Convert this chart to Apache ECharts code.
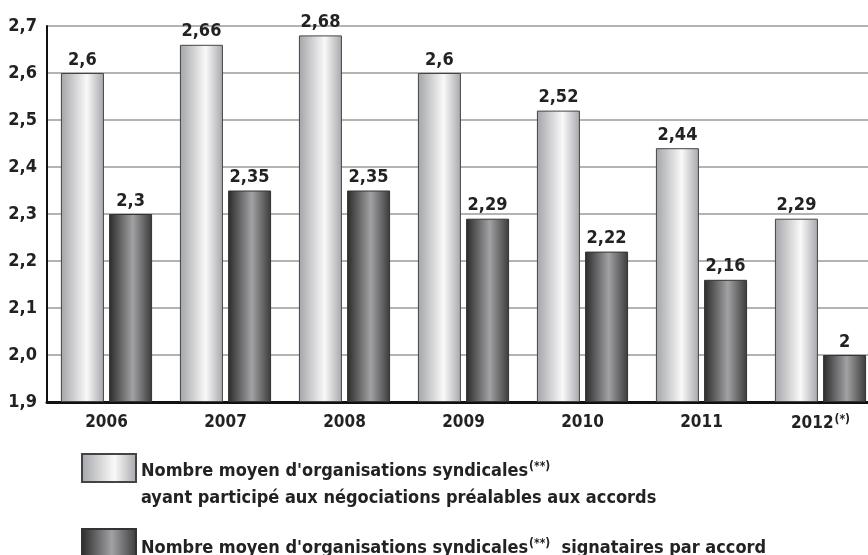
<!DOCTYPE html>
<html>
<head>
<meta charset="utf-8">
<script src="https://cdn.jsdelivr.net/npm/echarts@6/dist/echarts.min.js"></script>
<style>
html, body { margin: 0; padding: 0; background: #fff; }
#main { width: 868px; height: 555px; }
</style>
</head>
<body>
<div id="main"></div>
<script>
// annees et valeurs
let years = ['2006', '2007', '2008', '2009', '2010', '2011', '2012'];
let participants = [2.6, 2.66, 2.68, 2.6, 2.52, 2.44, 2.29];
let signataires = [2.3, 2.35, 2.35, 2.29, 2.22, 2.16, 2.0];
let seriesNames = [
    "Nombre moyen d'organisations syndicales",
    "Nombre moyen d'organisations syndicales signataires"
];

let font = "'Liberation Sans Narrow', 'DejaVu Sans Condensed', sans-serif";

let lightBar = new echarts.graphic.LinearGradient(0, 0, 1, 0, [
    { offset: 0, color: '#a4a5a9' },
    { offset: 0.6, color: '#f9f9f9' },
    { offset: 1, color: '#a6a7ab' }
]);
let darkBar = new echarts.graphic.LinearGradient(0, 0, 1, 0, [
    { offset: 0, color: '#2a2a2a' },
    { offset: 0.55, color: '#a2a2a5' },
    { offset: 1, color: '#3a3a3a' }
]);

let chart = echarts.init(document.getElementById('main'));
let fmt = function (p) { return String(p.value).replace('.', ','); };

let legendRich = {
    t: { fontFamily: font, fontSize: 18, fontWeight: 'bold', color: '#222', lineHeight: 27 },
    s: { fontFamily: font, fontSize: 12, fontWeight: 'bold', color: '#222', lineHeight: 27, padding: [0, 0, 8, 1] }
};

option = {
    animation: false,
    textStyle: { fontFamily: font },
    grid: {
        left: 47,
        top: 26,
        width: 833,
        bottom: 153,
        outerBoundsMode: 'none'
    },
    legend: [
        {
            data: [seriesNames[0]],
            left: 81,
            top: 453,
            padding: 0,
            icon: 'rect',
            itemWidth: 54,
            itemHeight: 28,
            itemGap: 8,
            formatter: function () {
                return "{t|Nombre moyen d'organisations syndicales}{s|(**)}\n{t|ayant participé aux négociations préalables aux accords}";
            },
            textStyle: {
                padding: [33, 0, 0, 0],
                rich: legendRich
            }
        },
        {
            data: [seriesNames[1]],
            left: 81,
            top: 528,
            padding: 0,
            icon: 'rect',
            itemWidth: 54,
            itemHeight: 28,
            formatter: function () {
                return "{t|Nombre moyen d'organisations syndicales}{s|(**)}{t|  signataires par accord}";
            },
            textStyle: {
                padding: [10, 0, 0, 0],
                rich: legendRich
            }
        }
    ],
    xAxis: {
        type: 'category',
        data: years,
        axisLine: { lineStyle: { color: '#111', width: 3 } },
        axisTick: { show: false },
        axisLabel: {
            margin: 12,
            formatter: function (v) {
                return v === '2012' ? '{y|' + v + '}{s|(*)}' : '{y|' + v + '}';
            },
            rich: {
                y: { fontFamily: font, fontSize: 17, fontWeight: 'bold', color: '#222' },
                s: { fontFamily: font, fontSize: 12, fontWeight: 'bold', color: '#222', padding: [0, 0, 7, 1] }
            }
        }
    },
    yAxis: {
        type: 'value',
        min: 1.9,
        max: 2.7,
        interval: 0.1,
        startValue: 1.9,
        axisLine: { show: true, lineStyle: { color: '#111', width: 2 } },
        axisTick: { show: false },
        splitLine: { lineStyle: { color: '#9a9a9a', width: 1.5 } },
        axisLabel: {
            margin: 10,
            fontFamily: font,
            fontSize: 18,
            fontWeight: 'bold',
            color: '#222',
            formatter: function (v) { return v.toFixed(1).replace('.', ','); }
        }
    },
    series: [
        {
            name: seriesNames[0],
            type: 'bar',
            data: participants,
            barWidth: 43,
            barGap: '12%',
            itemStyle: { color: lightBar, borderColor: '#444', borderWidth: 1 },
            label: {
                show: true,
                position: 'top',
                distance: 4,
                fontFamily: font,
                fontSize: 18,
                fontWeight: 'bold',
                color: '#222',
                formatter: fmt
            }
        },
        {
            name: seriesNames[1],
            type: 'bar',
            data: signataires,
            barWidth: 43,
            itemStyle: { color: darkBar, borderColor: '#333', borderWidth: 1 },
            label: {
                show: true,
                position: 'top',
                distance: 4,
                fontFamily: font,
                fontSize: 18,
                fontWeight: 'bold',
                color: '#222',
                formatter: fmt
            }
        }
    ]
};
chart.setOption(option);
</script>
</body>
</html>
